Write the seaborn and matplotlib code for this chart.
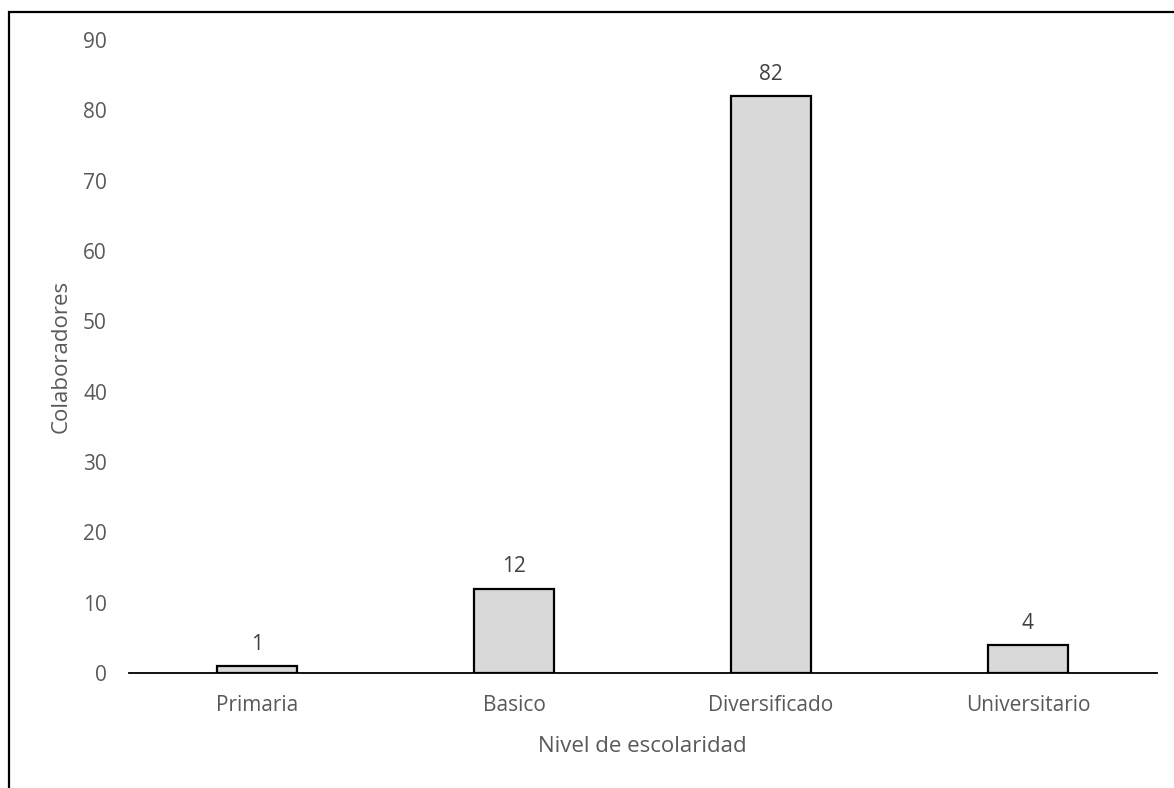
import matplotlib
matplotlib.use("Agg")
import matplotlib.pyplot as plt
from matplotlib.patches import Rectangle
import seaborn as sns
import pandas as pd

niveles = ["Primaria", "Basico", "Diversificado", "Universitario"]
colaboradores = [1, 12, 82, 4]
y_ticks = [0, 10, 20, 30, 40, 50, 60, 70, 80, 90]

sns.set_theme(style="white")
plt.rcParams["font.family"] = ["Open Sans", "DejaVu Sans"]

df = pd.DataFrame({"nivel": niveles, "colaboradores": colaboradores})

W, H = 1174, 788
fig = plt.figure(figsize=(W / 100, H / 100), dpi=100)
ax = fig.add_axes([128.5 / W, (H - 673) / H, (1156.5 - 128.5) / W, (673 - 40) / H])

sns.barplot(data=df, x="nivel", y="colaboradores", ax=ax, color="#d9d9d9",
            edgecolor="black", linewidth=1.6, width=0.315, saturation=1)

for container in ax.containers:
    ax.bar_label(container, labels=[str(v) for v in colaboradores], padding=8,
                 fontsize=15, color="#404040")

ax.set_ylim(0, 90)
ax.set_xlim(-0.5, len(niveles) - 0.5)
ax.set_yticks(y_ticks)
ax.set_yticklabels([str(t) for t in y_ticks])
ax.tick_params(axis="both", length=0, labelsize=15, labelcolor="#595959")
ax.tick_params(axis="y", pad=15.5)
ax.tick_params(axis="x", pad=16)

for side in ["top", "right", "left"]:
    ax.spines[side].set_visible(False)
ax.spines["bottom"].set_color("black")
ax.spines["bottom"].set_linewidth(1.3)

ax.set_xlabel("Nivel de escolaridad", fontsize=16, color="#595959", labelpad=14)
ax.set_ylabel("Colaboradores", fontsize=16, color="#595959", labelpad=8.5)

# outer chart frame
frame = Rectangle((8.5 / W, -0.1), 1.2, (H - 12.5) / H + 0.1, transform=fig.transFigure,
                  fill=False, edgecolor="black", linewidth=1.6, clip_on=False)
fig.patches.append(frame)

fig.savefig("out.png", dpi=100, facecolor="white")
